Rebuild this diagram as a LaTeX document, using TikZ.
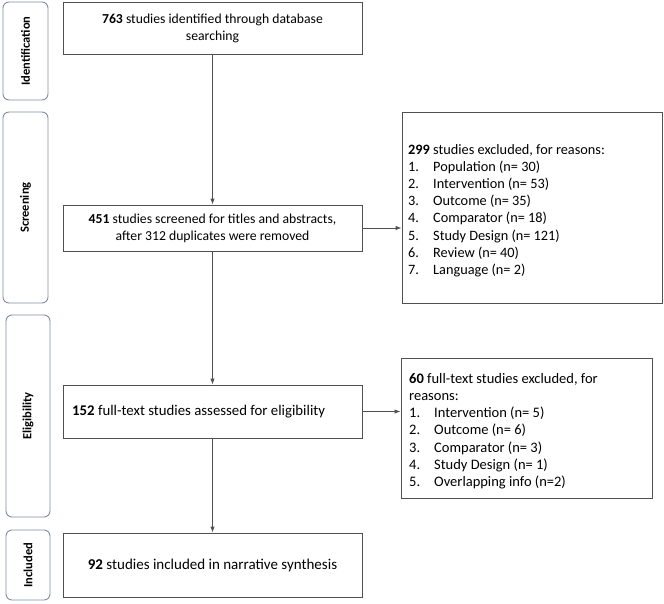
\documentclass[tikz,border=0pt]{standalone}
\usepackage{fontspec}
\setmainfont{Carlito}
\usetikzlibrary{arrows.meta}
\definecolor{boxline}{HTML}{505050}
\definecolor{sideline}{HTML}{7F8CA3}
\tikzset{
  mainbox/.style={draw=boxline, line width=0.9pt, fill=white, minimum width=299pt, align=center, inner sep=2pt, font=\fontsize{13.7}{17}\selectfont},
  exclbox/.style={draw=boxline, line width=0.9pt, fill=white, inner sep=0pt},
  sidebox/.style={draw=sideline, line width=0.9pt, rounded corners=6pt, minimum width=45pt, inner sep=0pt},
  sidelabel/.style={rotate=90, font=\bfseries\fontsize{12.5}{14}\selectfont},
  listtext/.style={anchor=north west, inner sep=0pt, align=left, font=\fontsize{14.3}{17.2}\selectfont},
  flow/.style={draw=boxline, line width=0.9pt, -{Latex[length=6pt,width=4.5pt]}}
}
\newcommand{\itm}[1]{\makebox[25pt][l]{#1}}
\begin{document}
\begin{tikzpicture}[x=1pt,y=-1pt]
\useasboundingbox (0,0) rectangle (664,603);
% side phase boxes
\node[sidebox, minimum height=98pt] (s1) at (25.5,51) {};
\node[sidelabel] (s1t) at (s1.center) {Identification};
\node[sidebox, minimum height=191pt] (s2) at (25.5,207.5) {};
\node[sidelabel] (s2t) at (s2.center) {Screening};
\node[sidebox, minimum height=202pt, minimum width=44pt] (s3) at (28,416) {};
\node[sidelabel] (s3t) at (s3.center) {Eligibility};
\node[sidebox, minimum height=70pt, minimum width=44pt] (s4) at (28,565) {};
\node[sidelabel] (s4t) at (s4.center) {Included};
% main boxes
\node[mainbox, minimum height=52pt] (b1) at (212.5,28) {\textbf{763} studies identified through database\\searching};
\node[mainbox, minimum height=46pt] (b2) at (212.5,228) {\textbf{451} studies screened for titles and abstracts,\\after 312 duplicates were removed};
\node[mainbox, minimum height=53pt] (b3) at (212.5,411.5) {};
\node[anchor=west, inner sep=0pt, font=\fontsize{14.8}{17}\selectfont] (b3t) at (72,411.5) {\textbf{152} full-text studies assessed for eligibility};
\node[mainbox, minimum height=64pt, font=\fontsize{15}{17}\selectfont] (b4) at (212.5,565) {\textbf{92} studies included in narrative synthesis};
% exclusion boxes
\node[exclbox, minimum width=260pt, minimum height=191pt] (e1) at (532,207.5) {};
\node[listtext] (e1t) at (408,144) {\textbf{299} studies excluded, for reasons:\\
\itm{1.}Population (n= 30)\\
\itm{2.}Intervention (n= 53)\\
\itm{3.}Outcome (n= 35)\\
\itm{4.}Comparator (n= 18)\\
\itm{5.}Study Design (n= 121)\\
\itm{6.}Review (n= 40)\\
\itm{7.}Language (n= 2)};
\node[exclbox, minimum width=251pt, minimum height=140pt] (e2) at (526.5,428) {};
\node[listtext, font=\fontsize{14.5}{17.2}\selectfont] (e2t) at (409,373) {\textbf{60} full-text studies excluded, for\\
reasons:\\
\itm{1.}Intervention (n= 5)\\
\itm{2.}Outcome (n= 6)\\
\itm{3.}Comparator (n= 3)\\
\itm{4.}Study Design (n= 1)\\
\itm{5.}Overlapping info (n=2)};
% connectors
\draw[flow] (b1.south) -- (b2.north);
\draw[flow] (b2.south) -- (b3.north);
\draw[flow] (b3.south) -- (b4.north);
\draw[flow] (b2.east) -- (b2.east -| e1.west);
\draw[flow] (b3.east) -- (b3.east -| e2.west);
\end{tikzpicture}
\end{document}
